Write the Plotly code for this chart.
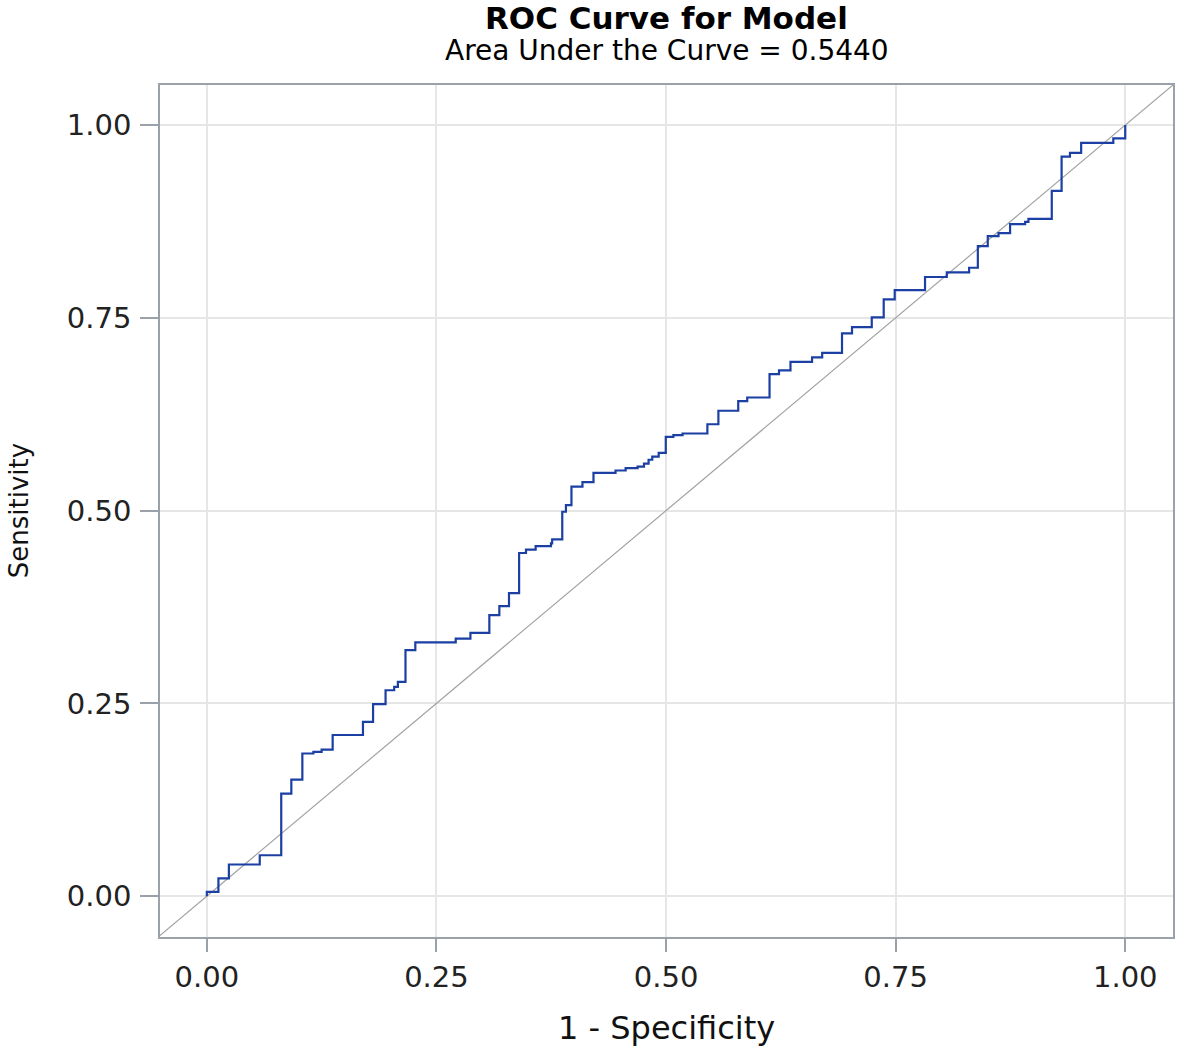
import plotly.graph_objects as go

# ROC step curve vertices (left end of each horizontal segment)
fpr = [0.0, 0.0, 0.0126, 0.024, 0.0576, 0.081, 0.092, 0.104, 0.116, 0.125, 0.137,
       0.170, 0.181, 0.1946, 0.204, 0.208, 0.2163, 0.227, 0.271, 0.287, 0.3076,
       0.3185, 0.329, 0.340, 0.3475, 0.358, 0.3747, 0.376, 0.387, 0.391, 0.397,
       0.409, 0.421, 0.445, 0.456, 0.469, 0.476, 0.481, 0.485, 0.492, 0.4997,
       0.508, 0.518, 0.545, 0.557, 0.5786, 0.5884, 0.6127, 0.623, 0.6355, 0.659,
       0.670, 0.6916, 0.7025, 0.724, 0.737, 0.749, 0.782, 0.8057, 0.830, 0.8395,
       0.8503, 0.862, 0.8746, 0.891, 0.8946, 0.920, 0.9307, 0.9398, 0.952, 0.987,
       1.0]
tpr = [0.0, 0.0056, 0.023, 0.041, 0.053, 0.133, 0.151, 0.185, 0.187, 0.190, 0.209,
       0.226, 0.249, 0.267, 0.2715, 0.278, 0.319, 0.329, 0.334, 0.3415, 0.3645,
       0.376, 0.393, 0.445, 0.4495, 0.454, 0.4575, 0.4626, 0.4985, 0.507, 0.531,
       0.537, 0.549, 0.552, 0.555, 0.557, 0.561, 0.566, 0.570, 0.575, 0.5957,
       0.598, 0.600, 0.612, 0.6295, 0.642, 0.6467, 0.677, 0.682, 0.693, 0.6987,
       0.7047, 0.730, 0.738, 0.7505, 0.774, 0.786, 0.803, 0.809, 0.815, 0.843,
       0.856, 0.860, 0.8716, 0.8746, 0.8785, 0.9148, 0.959, 0.964, 0.977, 0.9827,
       1.0]

ref_x = [-0.1, 1.1]
ref_y = [-0.1, 1.1]

tick_vals = [0.0, 0.25, 0.5, 0.75, 1.0]
tick_text = ["0.00", "0.25", "0.50", "0.75", "1.00"]

title_text = "ROC Curve for Model"
subtitle_text = "Area Under the Curve = 0.5440"
x_title = "1 - Specificity"
y_title = "Sensitivity"

FONT = "DejaVu Sans"

fig = go.Figure()
fig.add_trace(go.Scatter(x=ref_x, y=ref_y, mode="lines",
                         line=dict(color="#a3a3a3", width=1.2),
                         hoverinfo="skip", showlegend=False))
fig.add_trace(go.Scatter(x=fpr, y=tpr, mode="lines", line_shape="hv",
                         line=dict(color="#1b3fa3", width=2.2),
                         showlegend=False))

axis_common = dict(
    tickvals=tick_vals, ticktext=tick_text,
    showgrid=True, gridcolor="#e6e6e6", gridwidth=1.5,
    zeroline=False,
    showline=True, linecolor="#9aa1a8", linewidth=1.5, mirror=True,
    ticks="outside", tickcolor="#9aa1a8", tickwidth=1.5,
    tickfont=dict(family=FONT, size=29, color="#222222"),
)

fig.update_layout(
    width=1181, height=1049,
    margin=dict(l=160, r=6, t=85, b=112),
    paper_bgcolor="white", plot_bgcolor="white",
    xaxis=dict(range=[-0.051, 1.052], ticklen=13, ticklabelstandoff=0, **axis_common),
    yaxis=dict(range=[-0.053, 1.052], ticklen=18, ticklabelstandoff=3, **axis_common),
    annotations=[
        dict(text="<b>" + title_text + "</b>", xref="paper", yref="paper",
             x=0.5, y=1.079, xanchor="center", yanchor="middle", showarrow=False,
             font=dict(family=FONT, size=31, color="#000000")),
        dict(text=subtitle_text, xref="paper", yref="paper",
             x=0.5, y=1.041, xanchor="center", yanchor="middle", showarrow=False,
             font=dict(family=FONT, size=28, color="#000000")),
        dict(text=x_title, xref="paper", yref="paper",
             x=0.5, y=-0.107, xanchor="center", yanchor="middle", showarrow=False,
             font=dict(family=FONT, size=32, color="#111111")),
        dict(text=y_title, xref="paper", yref="paper", textangle=-90,
             x=-0.139, y=0.5, xanchor="center", yanchor="middle", showarrow=False,
             font=dict(family=FONT, size=26, color="#111111")),
    ],
)

fig.write_html("out.html", config={"displayModeBar": False},
               post_script="document.body.style.margin='0px';document.body.style.overflow='hidden';")
